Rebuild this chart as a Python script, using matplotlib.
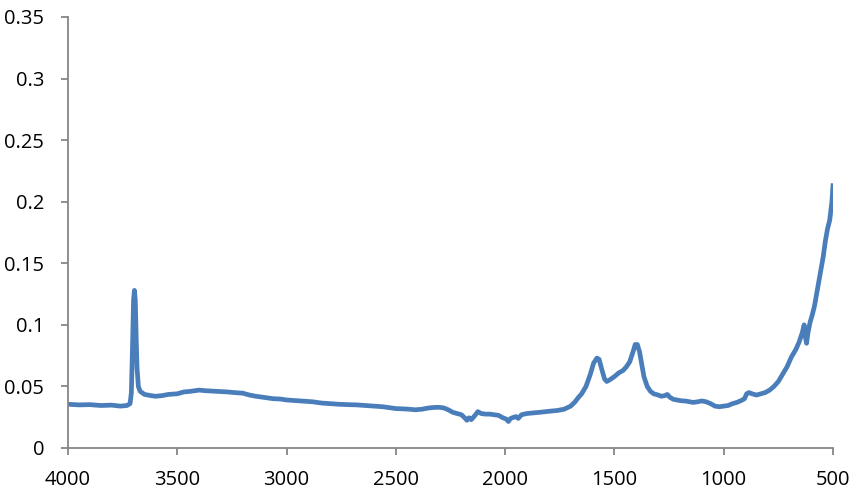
import matplotlib
matplotlib.use('Agg')
import matplotlib.pyplot as plt

# wavenumber (cm-1) and absorbance
wavenumber = [4000, 3950, 3900, 3850, 3800, 3760, 3730, 3716, 3710, 3705,
              3700, 3696, 3692, 3688, 3684, 3678, 3670, 3650, 3620, 3600,
              3570, 3540, 3500, 3470, 3440, 3400, 3370, 3340, 3300, 3270,
              3240, 3200, 3170, 3140, 3100, 3060, 3030, 3000, 2960, 2920,
              2880, 2840, 2800, 2760, 2720, 2680, 2640, 2600, 2560, 2520,
              2500, 2470, 2440, 2410, 2380, 2350, 2320, 2300, 2280, 2260,
              2240, 2220, 2200, 2185, 2175, 2165, 2155, 2140, 2125, 2110,
              2090, 2070, 2050, 2030, 2010, 1995, 1985, 1975, 1960, 1950,
              1940, 1925, 1900, 1870, 1840, 1800, 1760, 1730, 1700, 1680,
              1665, 1650, 1630, 1610, 1595, 1580, 1570, 1558, 1545, 1535,
              1520, 1500, 1480, 1460, 1445, 1430, 1415, 1405, 1395, 1385,
              1375, 1365, 1350, 1335, 1320, 1300, 1285, 1270, 1258, 1245,
              1230, 1200, 1170, 1140, 1120, 1100, 1080, 1060, 1040, 1020,
              1000, 980, 960, 940, 920, 905, 895, 885, 870, 850,
              830, 810, 790, 770, 750, 730, 710, 690, 670, 655,
              640, 632, 626, 621, 615, 605, 595, 585, 575, 565,
              555, 545, 535, 525, 515, 505, 500]
absorbance = [0.0355, 0.0350, 0.0352, 0.0345, 0.0348, 0.0340, 0.0345, 0.0360, 0.0450, 0.0800,
              0.1200, 0.1280, 0.1200, 0.0900, 0.0650, 0.0500, 0.0460, 0.0435, 0.0425, 0.0420,
              0.0425, 0.0435, 0.0440, 0.0455, 0.0460, 0.0470, 0.0465, 0.0462, 0.0458, 0.0455,
              0.0450, 0.0445, 0.0430, 0.0420, 0.0410, 0.0400, 0.0398, 0.0390, 0.0385, 0.0380,
              0.0375, 0.0365, 0.0360, 0.0355, 0.0352, 0.0350, 0.0345, 0.0340, 0.0335, 0.0325,
              0.0320, 0.0318, 0.0315, 0.0310, 0.0315, 0.0325, 0.0330, 0.0330, 0.0325, 0.0310,
              0.0290, 0.0280, 0.0270, 0.0245, 0.0225, 0.0245, 0.0230, 0.0260, 0.0295, 0.0280,
              0.0275, 0.0275, 0.0270, 0.0265, 0.0245, 0.0235, 0.0215, 0.0240, 0.0250, 0.0255,
              0.0240, 0.0270, 0.0280, 0.0285, 0.0290, 0.0298, 0.0305, 0.0315, 0.0340, 0.0375,
              0.0410, 0.0440, 0.0500, 0.0600, 0.0690, 0.0730, 0.0720, 0.0640, 0.0560, 0.0540,
              0.0555, 0.0580, 0.0610, 0.0630, 0.0660, 0.0700, 0.0780, 0.0840, 0.0840, 0.0780,
              0.0680, 0.0580, 0.0500, 0.0460, 0.0440, 0.0430, 0.0420, 0.0425, 0.0435, 0.0410,
              0.0395, 0.0385, 0.0380, 0.0370, 0.0375, 0.0382, 0.0375, 0.0360, 0.0340, 0.0335,
              0.0340, 0.0345, 0.0360, 0.0370, 0.0385, 0.0400, 0.0440, 0.0450, 0.0440, 0.0430,
              0.0440, 0.0450, 0.0470, 0.0500, 0.0540, 0.0600, 0.0660, 0.0740, 0.0800, 0.0860,
              0.0940, 0.1000, 0.0900, 0.0850, 0.0930, 0.1020, 0.1080, 0.1150, 0.1250, 0.1350,
              0.1450, 0.1550, 0.1680, 0.1780, 0.1850, 0.2000, 0.2130]

x_ticks = [4000, 3500, 3000, 2500, 2000, 1500, 1000, 500]
y_ticks = [0, 0.05, 0.1, 0.15, 0.2, 0.25, 0.3, 0.35]
y_labels = ['0', '0.05', '0.1', '0.15', '0.2', '0.25', '0.3', '0.35']

plt.rcParams['font.family'] = ['Open Sans', 'DejaVu Sans']

fig = plt.figure(figsize=(8.54, 4.96), dpi=100)
ax = fig.add_axes([0.0796, 0.0968, 0.8958, 0.869])

ax.plot(wavenumber, absorbance, color='#4A7EBB', linewidth=3.4, solid_joinstyle='round')

ax.set_xlim(4000, 500)
ax.set_ylim(0, 0.35)
ax.set_xticks(x_ticks)
ax.set_xticklabels([str(t) for t in x_ticks])
ax.set_yticks(y_ticks)
ax.set_yticklabels(y_labels)

for side in ['top', 'right']:
    ax.spines[side].set_visible(False)
for side in ['left', 'bottom']:
    ax.spines[side].set_color('#868686')
    ax.spines[side].set_linewidth(1.3)

ax.tick_params(axis='both', direction='out', length=5, width=1.3, color='#868686',
               labelsize=14.5, labelcolor='black')
ax.tick_params(axis='y', pad=12)
ax.tick_params(axis='x', pad=11)

fig.savefig('out.png', dpi=100)
